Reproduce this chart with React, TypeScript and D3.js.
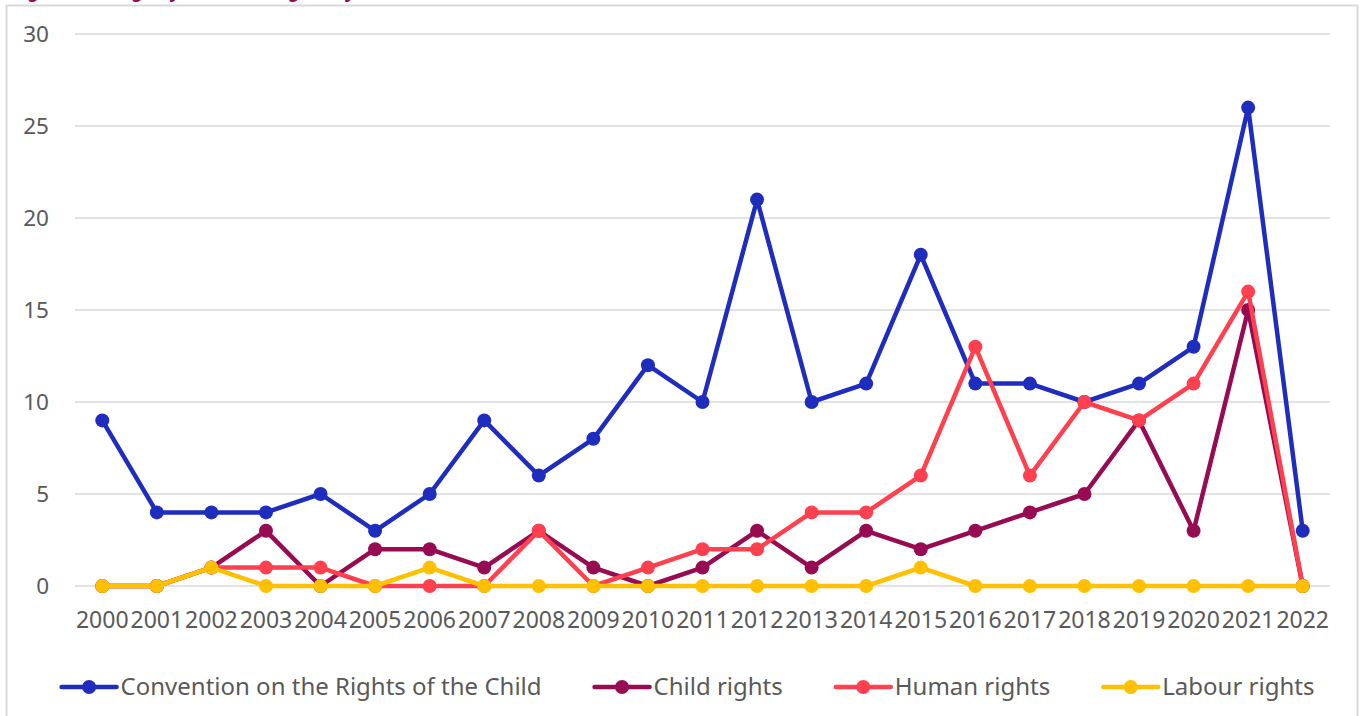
import React, { useEffect, useRef, useState } from "react";
import * as d3 from "d3";

const years = ["2000","2001","2002","2003","2004","2005","2006","2007","2008","2009","2010","2011","2012","2013","2014","2015","2016","2017","2018","2019","2020","2021","2022"];
const crc = [9,4,4,4,5,3,5,9,6,8,12,10,21,10,11,18,11,11,10,11,13,26,3];
const childRights = [0,0,1,3,0,2,2,1,3,1,0,1,3,1,3,2,3,4,5,9,3,15,0];
const humanRights = [0,0,1,1,1,0,0,0,3,0,1,2,2,4,4,6,13,6,10,9,11,16,0];
const labourRights = [0,0,1,0,0,0,1,0,0,0,0,0,0,0,0,1,0,0,0,0,0,0,0];
const yTicks = [0,5,10,15,20,25,30];
const seriesNames = ["Convention on the Rights of the Child","Child rights","Human rights","Labour rights"];
const seriesColors = ["#1f2dbf","#960b52","#ff404f","#ffc000"];
const title = "Figure 4: Usage of the term Rights by";

const W = 1362, H = 716;
const FONT = "'Noto Sans', 'Open Sans', sans-serif";

export default function App() {
  const legendRef = useRef<SVGGElement>(null);
  const [widths, setWidths] = useState<number[]>(seriesNames.map(n => n.length * 11));

  useEffect(() => {
    if (!legendRef.current) return;
    const ws: number[] = [];
    d3.select(legendRef.current).selectAll<SVGTextElement, unknown>("text.m").each(function () {
      ws.push(this.getComputedTextLength());
    });
    if (ws.length === seriesNames.length) setWidths(ws);
  }, []);

  const x = d3.scaleBand<string>().domain(years).range([75, 1330]);
  const y = d3.scaleLinear().domain([0, 30]).range([586, 34]);
  const cx = (yr: string) => (x(yr) as number) + x.bandwidth() / 2;
  const data = [crc, childRights, humanRights, labourRights];
  const line = d3.line<number>().x((_, i) => cx(years[i])).y(d => y(d));

  // legend layout
  const symW = 55, gapText = 4, gapItem = 53;
  const itemW = widths.map(w => symW + gapText + w);
  const total = d3.sum(itemW) + gapItem * (itemW.length - 1);
  const startX = 688 - total / 2;
  const offsets: number[] = [];
  let acc = startX;
  itemW.forEach(w => { offsets.push(acc); acc += w + gapItem; });
  const legendY = 687;

  return (
    <svg width={W} height={H} style={{ position: "absolute", left: 0, top: 0, background: "#fff" }} fontFamily={FONT}>
      <rect x={0} y={0} width={W} height={H} fill="#fff" />
      <text x={12} y={-3} fill="#9b0a55" fontSize={20} fontStyle="italic" fontWeight="bold" textLength={345}>{title}</text>
      <rect x={6.5} y={5.5} width={1351} height={730} fill="none" stroke="#d9d9d9" strokeWidth={2} />
      {yTicks.map(t => (
        <g key={t}>
          <line x1={75} x2={1330} y1={y(t)} y2={y(t)} stroke="#d9d9d9" strokeWidth={1.5} />
          <text x={49} y={y(t)} dy="0.35em" textAnchor="end" fontSize={22.5} fill="#595959">{t}</text>
        </g>
      ))}
      {years.map(yr => (
        <text key={yr} x={cx(yr)} y={628} textAnchor="middle" fontSize={23} fill="#595959">{yr}</text>
      ))}
      {data.map((s, si) => (
        <g key={si}>
          <path d={line(s) as string} fill="none" stroke={seriesColors[si]} strokeWidth={4.5} strokeLinejoin="round" strokeLinecap="round" />
          {s.map((v, i) => (
            <circle key={i} cx={cx(years[i])} cy={y(v)} r={7} fill={seriesColors[si]} />
          ))}
        </g>
      ))}
      <g ref={legendRef}>
        {seriesNames.map((n, i) => (
          <g key={n} transform={`translate(${offsets[i]},${legendY})`}>
            <line x1={0} x2={symW} y1={0} y2={0} stroke={seriesColors[i]} strokeWidth={4.5} strokeLinecap="round" />
            <circle cx={symW / 2} cy={0} r={7} fill={seriesColors[i]} />
            <text className="m" x={symW + gapText} y={0} dy="0.35em" fontSize={24} fill="#595959">{n}</text>
          </g>
        ))}
      </g>
    </svg>
  );
}
